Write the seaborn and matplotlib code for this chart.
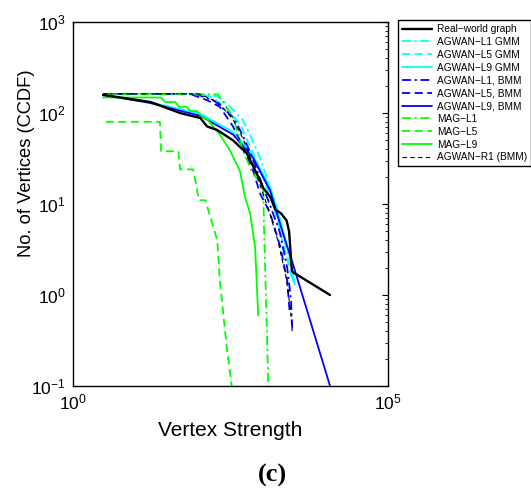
import matplotlib
matplotlib.use("Agg")
import matplotlib.pyplot as plt
import seaborn as sns
import numpy as np
import pandas as pd
from matplotlib.ticker import FixedLocator, FixedFormatter, LogLocator, NullLocator, NullFormatter

# ---- data ----
real_x = [3, 17, 50, 105, 135, 195, 347, 575, 724, 933, 1047, 1349, 1622, 1995, 2455, 2692, 2818, 2951, 3020, 12023]
real_y = [158, 132, 100, 88, 71, 65, 50, 36, 26, 18, 15, 12, 8.7, 7.9, 6.6, 5.0, 3.2, 2.0, 1.8, 1.0]

l9bmm_x = [3, 16.6, 105, 347, 724, 1349, 1995, 3090, 12023]
l9bmm_y = [158, 129, 93, 58, 32, 14, 5.6, 2.2, 0.1]

l9gmm_x = [3, 16.6, 105, 347, 724, 1349, 1995, 2818, 3311]
l9gmm_y = [158, 132, 98, 62, 34, 15, 6.3, 2.5, 1.3]

l5gmm_x = [3, 105, 166, 275, 447, 603, 832, 1202, 1479, 1950, 2512, 3090]
l5gmm_y = [162, 162, 148, 112, 76, 48, 29, 15, 10.5, 5.0, 2.5, 1.38]

l1gmm_x = [3, 120, 200, 316, 501, 692, 933, 1318, 1660, 2138, 2630, 3162]
l1gmm_y = [162, 162, 151, 117, 83, 52, 32, 16, 10, 5.0, 2.6, 1.4]

l5bmm_x = [3, 72, 135, 214, 347, 447, 575, 724, 933, 1349, 1950, 2512, 2754]
l5bmm_y = [162, 162, 138, 117, 71, 50, 33, 23, 13, 7.9, 3.4, 1.45, 0.63]

l1bmm_x = [3, 89, 178, 355, 525, 708, 955, 1318, 1905, 2512, 2884, 3020]
l1bmm_y = [162, 162, 135, 89, 52, 32, 18, 10, 5.0, 2.0, 0.89, 0.42]

r1bmm_x = [3, 100, 200, 355, 501, 708, 933, 1259, 1778, 2399, 2818, 3020]
r1bmm_y = [162, 162, 132, 83, 52, 28, 16, 8.9, 4.0, 1.6, 0.71, 0.40]

mag9_x = [3, 25, 29, 42, 48, 63, 74, 93, 112, 135, 214, 309, 447, 537, 646, 776, 871]
mag9_y = [148, 148, 132, 132, 117, 117, 105, 105, 91, 85, 58, 39, 23, 12, 7.9, 3.4, 0.6]

mag5_x = [3.3, 24, 25, 47, 50, 81, 100, 126, 195, 214, 275, 331]
mag5_y = [80, 80, 38, 38, 24, 24, 11, 11, 4.0, 1.45, 0.27, 0.1]

mag1_x = [3, 200, 347, 501, 708, 1047, 1072, 1175, 1259]
mag1_y = [160, 160, 91, 38, 22, 15.5, 6.2, 0.63, 0.1]

labels = ["Real\u2212world graph", "AGWAN\u2212L1 GMM", "AGWAN\u2212L5 GMM", "AGWAN\u2212L9 GMM",
          "AGWAN\u2212L1, BMM", "AGWAN\u2212L5, BMM", "AGWAN\u2212L9, BMM",
          "MAG\u2212L1", "MAG\u2212L5", "MAG\u2212L9", "AGWAN\u2212R1 (BMM)"]

y_ticks = [0.1, 1, 10, 100, 1000]
y_tick_labels = [r"$\mathregular{10^{-1}}$", r"$\mathregular{10^{0}}$", r"$\mathregular{10^{1}}$",
                 r"$\mathregular{10^{2}}$", r"$\mathregular{10^{3}}$"]
x_ticks = [1, 1e5]
x_tick_labels = [r"$\mathregular{10^{0}}$", r"$\mathregular{10^{5}}$"]

# ---- style ----
sns.set_style("white")
plt.rcParams["font.family"] = ["Liberation Sans", "DejaVu Sans"]
plt.rcParams["mathtext.fontset"] = "custom"
plt.rcParams["mathtext.rm"] = "Liberation Sans"
plt.rcParams["text.color"] = "black"
plt.rcParams["axes.labelcolor"] = "black"
plt.rcParams["xtick.color"] = "black"
plt.rcParams["ytick.color"] = "black"

fig = plt.figure(figsize=(5.31, 4.91), dpi=100)
ax = fig.add_axes([73 / 531, 1 - 386 / 491, (388 - 73) / 531, (386 - 22) / 491])

DASH = (0, (4.5, 2.5))
DASHDOT = (0, (5, 2, 1.2, 2))

series = [
    (real_x, real_y, labels[0], "black", "-", 1.7),
    (l1gmm_x, l1gmm_y, labels[1], "#00ffff", DASHDOT, 1.3),
    (l5gmm_x, l5gmm_y, labels[2], "#00ffff", DASH, 1.3),
    (l9gmm_x, l9gmm_y, labels[3], "#00ffff", "-", 1.3),
    (l1bmm_x, l1bmm_y, labels[4], "#0000ff", DASHDOT, 1.3),
    (l5bmm_x, l5bmm_y, labels[5], "#0000ff", DASH, 1.3),
    (l9bmm_x, l9bmm_y, labels[6], "#0000ff", "-", 1.3),
    (mag1_x, mag1_y, labels[7], "#00ff00", DASHDOT, 1.3),
    (mag5_x, mag5_y, labels[8], "#00ff00", DASH, 1.3),
    (mag9_x, mag9_y, labels[9], "#00ff00", "-", 1.3),
    (r1bmm_x, r1bmm_y, labels[10], "black", (0, (4, 3)), 0.8),
]

handles = []
z_order = {labels[0]: 5}
for xs, ys, lab, col, ls, lw in series:
    df = pd.DataFrame({"x": xs, "y": ys})
    sns.lineplot(data=df, x="x", y="y", ax=ax, sort=False, estimator=None,
                 color=col, linestyle=ls, linewidth=lw, label=lab,
                 zorder=z_order.get(lab, 2), legend=False)
    handles.append(ax.lines[-1])

ax.set_xscale("log")
ax.set_yscale("log")
ax.set_xlim(1, 1e5)
ax.set_ylim(0.1, 1000)

ax.xaxis.set_major_locator(FixedLocator(x_ticks))
ax.xaxis.set_major_formatter(FixedFormatter(x_tick_labels))
ax.xaxis.set_minor_locator(NullLocator())
ax.yaxis.set_major_locator(FixedLocator(y_ticks))
ax.yaxis.set_major_formatter(FixedFormatter(y_tick_labels))
ax.yaxis.set_minor_locator(LogLocator(base=10, subs=np.arange(2, 10), numticks=20))
ax.yaxis.set_minor_formatter(NullFormatter())

ax.tick_params(which="both", direction="in", top=True, right=True, labelsize=12.5, pad=5,
               colors="black")
ax.tick_params(which="major", length=4, width=0.8)
ax.tick_params(which="minor", length=2.5, width=0.6)
for sp in ax.spines.values():
    sp.set_visible(True)
    sp.set_color("black")
    sp.set_linewidth(1.0)

ax.set_xlabel("Vertex Strength", fontsize=15, labelpad=6, color="black")
ax.set_ylabel("No. of Vertices (CCDF)", fontsize=13.2, color="black")
ax.yaxis.set_label_coords((35 - 73) / 315, (386 - 163) / 364)

leg = ax.legend(handles=handles, labels=labels, loc="upper left",
                bbox_to_anchor=(398 / 531, 1 - 20 / 491), bbox_transform=fig.transFigure,
                fontsize=7.3, frameon=True, fancybox=False, shadow=False,
                handlelength=3.0, handletextpad=0.45, labelspacing=0.28,
                borderpad=0.4, borderaxespad=0.0)
leg.get_frame().set_edgecolor("black")
leg.get_frame().set_linewidth(1.0)
leg.get_frame().set_alpha(1)
for t in leg.get_texts():
    t.set_color("black")

fig.text(272 / 531, 1 - 475 / 491, "(c)", ha="center", va="center", color="black",
         fontsize=19, fontweight="bold", family=["Liberation Serif", "DejaVu Serif"])

fig.savefig("out.png", dpi=100, facecolor="white")
